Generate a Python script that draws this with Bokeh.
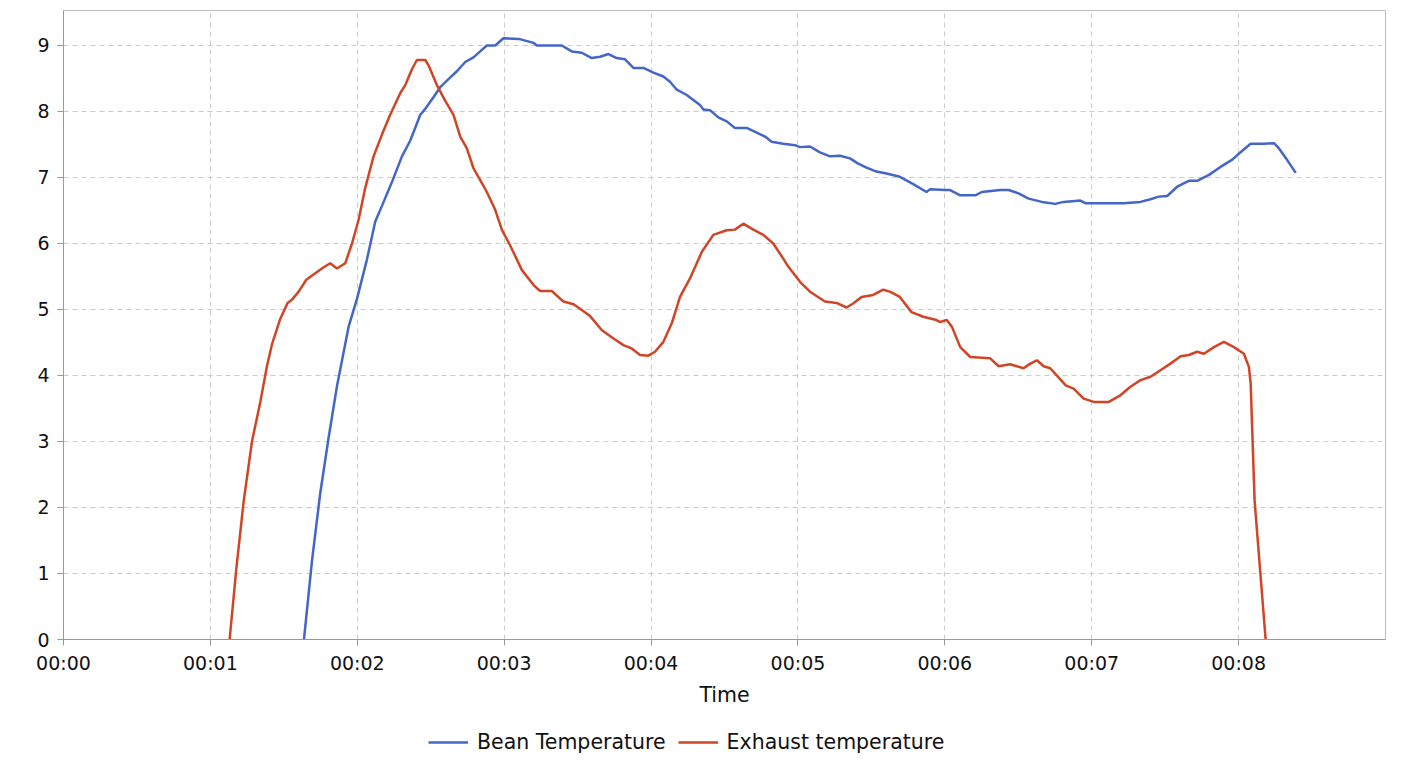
from bokeh.plotting import figure
from bokeh.models import Range1d, FixedTicker, Legend, LegendItem
from bokeh.layouts import column
from bokeh.embed import file_html
from bokeh.resources import INLINE

# time in minutes
bean_time = [1.637, 1.692, 1.748, 1.805, 1.862, 1.941, 1.998, 2.066, 2.122, 2.168,
             2.236, 2.304, 2.361, 2.429, 2.463, 2.52, 2.565, 2.621, 2.678, 2.735,
             2.791, 2.837, 2.882, 2.939, 2.995, 3.1, 3.2, 3.222, 3.392, 3.46,
             3.528, 3.596, 3.653, 3.71, 3.766, 3.823, 3.88, 3.948, 4.016, 4.084,
             4.129, 4.175, 4.243, 4.333, 4.356, 4.401, 4.458, 4.515, 4.571, 4.651,
             4.719, 4.776, 4.821, 4.9, 4.98, 5.014, 5.082, 5.15, 5.218, 5.286,
             5.354, 5.41, 5.467, 5.535, 5.603, 5.694, 5.785, 5.875, 5.898, 6.0,
             6.036, 6.105, 6.207, 6.252, 6.377, 6.434, 6.502, 6.57, 6.661, 6.752,
             6.809, 6.923, 6.957, 7.218, 7.332, 7.4, 7.457, 7.514, 7.582, 7.661,
             7.718, 7.798, 7.877, 7.957, 7.991, 8.082, 8.173, 8.241, 8.275, 8.332,
             8.389]
bean_temp = [0, 1.2, 2.22, 3.06, 3.84, 4.74, 5.16, 5.76, 6.33, 6.57,
             6.93, 7.32, 7.56, 7.95, 8.04, 8.22, 8.37, 8.49, 8.61, 8.75,
             8.82, 8.91, 9.0, 9.0, 9.11, 9.1, 9.04, 9.0, 9.0, 8.91,
             8.89, 8.81, 8.83, 8.87, 8.81, 8.79, 8.66, 8.66, 8.59, 8.53,
             8.45, 8.33, 8.25, 8.10, 8.03, 8.02, 7.91, 7.85, 7.75, 7.75,
             7.68, 7.62, 7.54, 7.51, 7.49, 7.46, 7.47, 7.38, 7.32, 7.33,
             7.29, 7.21, 7.15, 7.09, 7.06, 7.01, 6.90, 6.78, 6.82, 6.81,
             6.81, 6.73, 6.73, 6.78, 6.81, 6.81, 6.76, 6.68, 6.63, 6.6,
             6.63, 6.65, 6.61, 6.61, 6.63, 6.67, 6.71, 6.72, 6.86, 6.95,
             6.95, 7.04, 7.16, 7.27, 7.34, 7.51, 7.51, 7.52, 7.44, 7.26,
             7.07]

exhaust_time = [1.131, 1.177, 1.227, 1.283, 1.340, 1.385, 1.419, 1.476, 1.526, 1.556,
                1.601, 1.653, 1.714, 1.771, 1.816, 1.862, 1.918, 1.964, 2.009, 2.054,
                2.111, 2.168, 2.224, 2.293, 2.327, 2.372, 2.406, 2.463, 2.485, 2.542,
                2.599, 2.655, 2.701, 2.746, 2.791, 2.837, 2.882, 2.939, 2.984, 3.041,
                3.12, 3.2, 3.245, 3.324, 3.404, 3.472, 3.517, 3.585, 3.664, 3.744,
                3.812, 3.868, 3.925, 3.982, 4.027, 4.084, 4.141, 4.197, 4.265, 4.345,
                4.424, 4.515, 4.571, 4.628, 4.696, 4.764, 4.832, 4.9, 4.934, 5.014,
                5.082, 5.184, 5.263, 5.331, 5.376, 5.433, 5.512, 5.58, 5.626, 5.694,
                5.773, 5.853, 5.943, 5.968, 6.014, 6.048, 6.105, 6.173, 6.309, 6.366,
                6.445, 6.536, 6.582, 6.627, 6.673, 6.718, 6.823, 6.877, 6.945, 7.014,
                7.116, 7.195, 7.264, 7.332, 7.4, 7.468, 7.536, 7.605, 7.661, 7.718,
                7.764, 7.832, 7.9, 7.968, 8.036, 8.07, 8.082, 8.109, 8.184]
exhaust_temp = [0, 1.08, 2.1, 3.0, 3.6, 4.14, 4.47, 4.86, 5.1, 5.15,
                5.27, 5.45, 5.55, 5.64, 5.70, 5.62, 5.70, 6.0, 6.36, 6.84,
                7.32, 7.65, 7.95, 8.28, 8.4, 8.64, 8.78, 8.78, 8.70, 8.4,
                8.16, 7.95, 7.62, 7.44, 7.14, 6.96, 6.78, 6.51, 6.21, 5.97,
                5.6, 5.37, 5.28, 5.28, 5.12, 5.08, 5.01, 4.9, 4.69, 4.56,
                4.46, 4.41, 4.31, 4.30, 4.36, 4.51, 4.79, 5.19, 5.47, 5.87,
                6.13, 6.20, 6.21, 6.30, 6.21, 6.13, 6.0, 5.77, 5.65, 5.42,
                5.27, 5.12, 5.10, 5.03, 5.09, 5.19, 5.22, 5.30, 5.27, 5.19,
                4.96, 4.89, 4.84, 4.81, 4.84, 4.74, 4.43, 4.28, 4.26, 4.14,
                4.17, 4.11, 4.18, 4.23, 4.14, 4.11, 3.85, 3.8, 3.65, 3.6,
                3.6, 3.7, 3.83, 3.93, 3.98, 4.08, 4.18, 4.29, 4.31, 4.36,
                4.33, 4.43, 4.51, 4.43, 4.33, 4.13, 3.88, 2.1, 0]

x_ticks = [0, 1, 2, 3, 4, 5, 6, 7, 8]
x_tick_labels = ["00:00", "00:01", "00:02", "00:03", "00:04", "00:05", "00:06", "00:07", "00:08"]
y_ticks = [0, 1, 2, 3, 4, 5, 6, 7, 8, 9]

FONT = "DejaVu Sans"
BLUE = "#4466c8"
RED = "#cf4526"

p = figure(width=1414, height=720, output_backend="svg", toolbar_location=None,
           x_range=Range1d(0, 9), y_range=Range1d(0, 9.53),
           min_border_left=63, min_border_right=29, min_border_top=10, min_border_bottom=81)

p.line(bean_time, bean_temp, line_color=BLUE, line_width=2.5)
p.line(exhaust_time, exhaust_temp, line_color=RED, line_width=2.5)

p.xaxis.ticker = FixedTicker(ticks=x_ticks)
p.xaxis.major_label_overrides = {t: s for t, s in zip(x_ticks, x_tick_labels)}
p.yaxis.ticker = FixedTicker(ticks=y_ticks)
p.xaxis.axis_label = "Time"

for ax in (p.xaxis[0], p.yaxis[0]):
    ax.axis_line_color = "#999999"
    ax.major_tick_line_color = "#999999"
    ax.major_tick_out = 6
    ax.major_tick_in = 0
    ax.minor_tick_line_color = None
    ax.major_label_text_font = FONT
    ax.major_label_text_font_size = "19px"
    ax.major_label_text_color = "#111111"
    ax.axis_label_text_font = FONT
    ax.axis_label_text_font_size = "20.5px"
    ax.axis_label_text_font_style = "normal"
    ax.axis_label_text_color = "#111111"
p.xaxis.major_label_standoff = 6
p.xaxis.axis_label_standoff = 6
p.yaxis.major_label_standoff = 8

p.grid.grid_line_color = "#cccccc"
p.grid.grid_line_dash = "5 4"
p.grid.grid_line_width = 1
p.outline_line_color = "#bbbbbb"

# legend row below the chart; its lines sit outside the visible range
lg = figure(width=1414, height=46, output_backend="svg", toolbar_location=None,
            x_range=Range1d(100, 101), y_range=Range1d(100, 101),
            x_axis_location=None, y_axis_location=None,
            min_border_left=0, min_border_right=0, min_border_top=0, min_border_bottom=0)
lg.outline_line_color = None
lg.grid.visible = False
lb = lg.line(bean_time[:2], bean_temp[:2], line_color=BLUE, line_width=2.5)
le = lg.line(exhaust_time[:2], exhaust_temp[:2], line_color=RED, line_width=2.5)
legend = Legend(items=[LegendItem(label="Bean Temperature", renderers=[lb]),
                       LegendItem(label="Exhaust temperature", renderers=[le])],
                orientation="horizontal", location=(365, 12),
                label_text_font=FONT, label_text_font_size="20.5px", label_text_color="#111111",
                glyph_width=40, label_standoff=9, spacing=12, padding=10, margin=0,
                border_line_color=None, background_fill_alpha=0)
lg.add_layout(legend, "center")

open("out.html", "w").write(file_html(column(p, lg), INLINE))
